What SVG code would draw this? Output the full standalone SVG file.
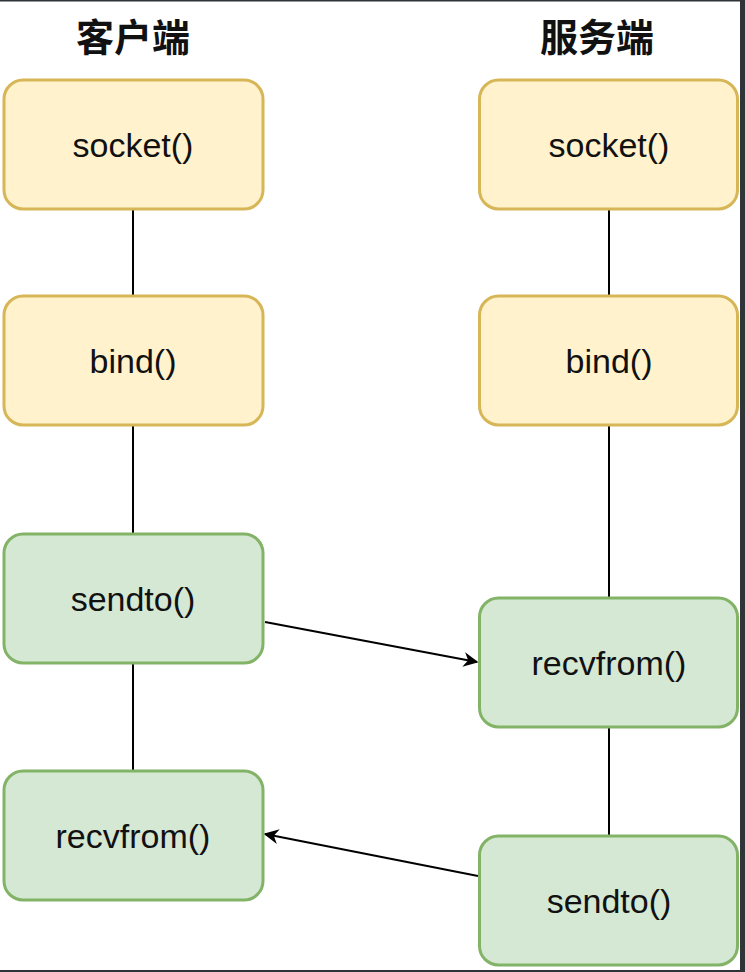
<svg xmlns="http://www.w3.org/2000/svg" width="745" height="972" viewBox="0 0 745 972">
<style>
.bg{fill:#ffffff}
.frame{fill:#2f3439}
.y{fill:#fff2cc;stroke:#d6b656;stroke-width:3}
.g{fill:#d5e8d4;stroke:#82b366;stroke-width:3}
.t{font-family:"Liberation Sans",Arial,sans-serif;font-size:34px;fill:#111111;text-anchor:middle}
.h{font-family:"Noto Sans CJK SC","Liberation Sans",sans-serif;font-size:38px;font-weight:bold;fill:#111111;text-anchor:middle}
.ln{stroke:#000000;stroke-width:2;fill:none}
</style>
<defs>
<marker id="arr" viewBox="0 0 10 10" refX="9" refY="5" markerWidth="17" markerHeight="15" markerUnits="userSpaceOnUse" orient="auto">
<path d="M0,0 L10,5 L0,10 L3,5 Z" fill="#000000"/>
</marker>
</defs>
<rect class="bg" x="0" y="0" width="745" height="972"/>
<rect class="frame" x="0" y="0" width="745" height="1.5"/>
<rect class="frame" x="740" y="0" width="5" height="972"/>
<rect class="frame" x="0" y="970" width="745" height="2"/>
<g id="connectors">
<line class="ln" x1="133" y1="210" x2="133" y2="296"/>
<line class="ln" x1="133" y1="425" x2="133" y2="534"/>
<line class="ln" x1="133" y1="663" x2="133" y2="771"/>
<line class="ln" x1="609" y1="210" x2="609" y2="296"/>
<line class="ln" x1="609" y1="425" x2="609" y2="598"/>
<line class="ln" x1="609" y1="727" x2="609" y2="836"/>
<path d="M265,622 L477,662" stroke="#000" stroke-width="2" fill="none" marker-end="url(#arr)"/>
<path d="M478,876 L265,834" stroke="#000" stroke-width="2" fill="none" marker-end="url(#arr)"/>
</g>
<g id="title-client"><text class="h" x="133" y="51">客户端</text></g>
<g id="title-server"><text class="h" x="597" y="51">服务端</text></g>
<g id="c-socket"><rect class="y" x="4" y="80" width="259" height="129" rx="19"/><text class="t" x="133" y="157">socket()</text></g>
<g id="c-bind"><rect class="y" x="4" y="296" width="259" height="129" rx="19"/><text class="t" x="133" y="373">bind()</text></g>
<g id="c-sendto"><rect class="g" x="4" y="534" width="259" height="129" rx="19"/><text class="t" x="133" y="611">sendto()</text></g>
<g id="c-recvfrom"><rect class="g" x="4" y="771" width="259" height="129" rx="19"/><text class="t" x="133" y="848">recvfrom()</text></g>
<g id="s-socket"><rect class="y" x="479.5" y="80" width="258" height="129" rx="19"/><text class="t" x="609" y="157">socket()</text></g>
<g id="s-bind"><rect class="y" x="479.5" y="296" width="258" height="129" rx="19"/><text class="t" x="609" y="373">bind()</text></g>
<g id="s-recvfrom"><rect class="g" x="479.5" y="598" width="258" height="129" rx="19"/><text class="t" x="609" y="675">recvfrom()</text></g>
<g id="s-sendto"><rect class="g" x="479.5" y="836" width="258" height="129" rx="19"/><text class="t" x="609" y="913">sendto()</text></g>
</svg>
